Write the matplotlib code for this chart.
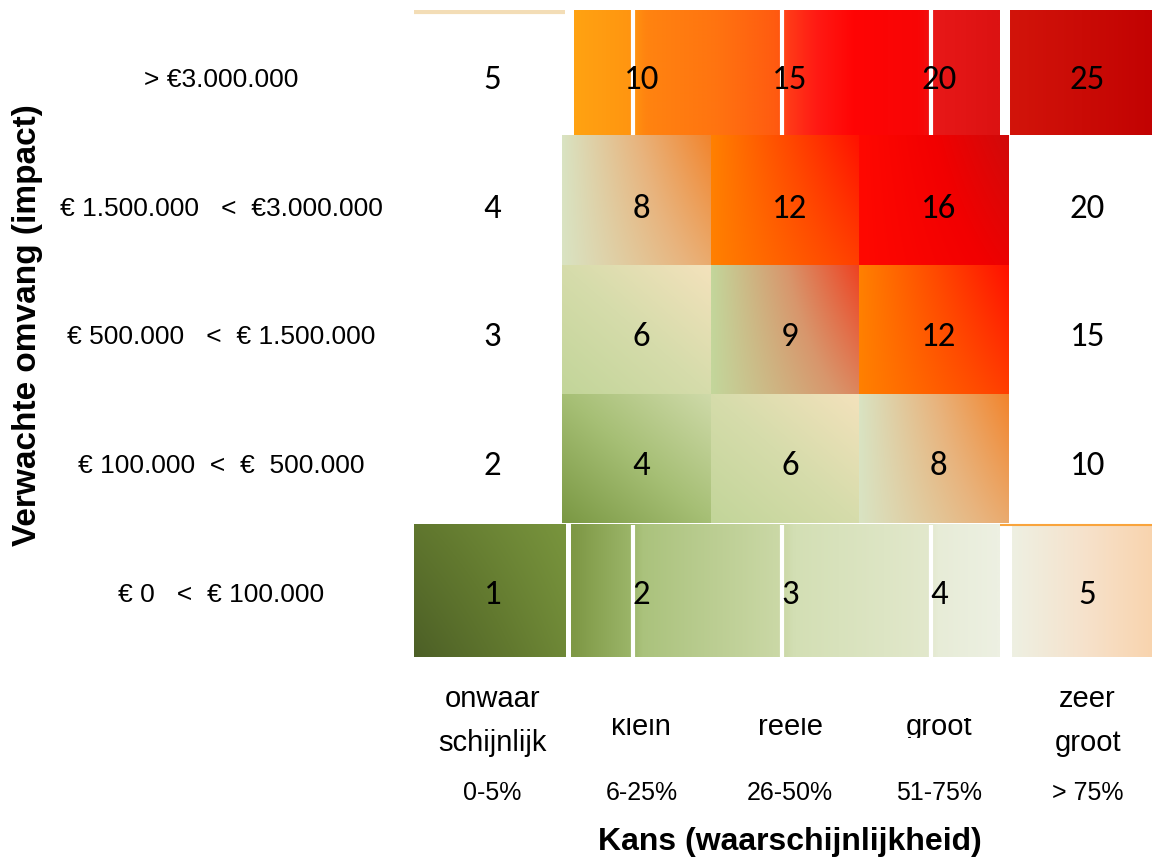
import numpy as np
import matplotlib
matplotlib.use("Agg")
import matplotlib.pyplot as plt
from matplotlib import font_manager
from matplotlib.colors import to_rgb
from matplotlib.transforms import Bbox, TransformedBbox, blended_transform_factory

# risk matrix: impact (rows) x likelihood (columns)
impact_levels = [1, 2, 3, 4, 5]
likelihood_levels = [1, 2, 3, 4, 5]
impact_labels = ["€ 0   <  € 100.000",
                 "€ 100.000  <  €  500.000",
                 "€ 500.000   <  € 1.500.000",
                 "€ 1.500.000   <  €3.000.000",
                 "> €3.000.000"]
likelihood_words = [["onwaar", "schijnlijk"], ["klein"], ["reële"], ["groot"], ["zeer", "groot"]]
likelihood_pct = ["0-5%", "6-25%", "26-50%", "51-75%", "> 75%"]
x_title = "Kans (waarschijnlijkheid)"
y_title = "Verwachte omvang (impact)"

W, H = 1152, 859

# colour stops (left/bottom -> right/top)
GRADIENTS = {
    "olive": ["#4c5f26", "#62792f", "#7a963e"],
    "green_dark": ["#7a9843", "#a6bf75", "#cfdaa9"],
    "green_tan": ["#c2d599", "#d6dcab", "#f4e2bc"],
    "green_orange": ["#d9e3c2", "#e8b47e", "#f2842c"],
    "green_red": ["#c3d69b", "#d8966c", "#ee4020"],
    "orange_red": ["#ff8000", "#ff4a00", "#ff1000"],
    "red": ["#ff0800", "#f20000", "#d00a0a"],
    "dark_red": ["#d2140a", "#c20202"],
    "peach": ["#eef0e2", "#f6e2cc", "#f9d4ae"],
}
SCORE_LOOK = {4: ("green_dark", "diag"), 6: ("green_tan", "diag"), 8: ("green_orange", "sweep"),
              9: ("green_red", "sweep"), 12: ("orange_red", "sweep"), 16: ("red", "sweep")}

TOP_BAND = [(0.0, "#ffa212"), (0.14, "#ff9410"), (0.16, "#ff8410"), (0.33, "#ff7410"),
            (0.48, "#ff5a10"), (0.50, "#ff3c18"), (0.57, "#ff1a14"), (0.66, "#ff0404"),
            (0.82, "#f80606"), (0.85, "#e81818"), (1.0, "#dc1212")]
BOTTOM_BAND = [(0.0, "#7e9845"), (0.14, "#9cb66a"), (0.16, "#aac27c"), (0.5, "#ccd9a8"),
               (0.52, "#d3dfb4"), (0.84, "#e2e8cc"), (0.86, "#e7ecd7"), (1.0, "#edf0e2")]


def fx(px):
    return px / W


def fy(py):
    return 1 - py / H


def make_grad(stops, mode, n=80):
    if isinstance(stops[0], tuple):
        pos = [p for p, _ in stops]
        cols = np.array([to_rgb(c) for _, c in stops])
    else:
        pos = np.linspace(0, 1, len(stops))
        cols = np.array([to_rgb(c) for c in stops])
    u, v = np.meshgrid(np.linspace(0, 1, n), np.linspace(0, 1, n))
    if mode == "horiz":
        t = u
    elif mode == "diag":
        t = (u + v) / 2
    elif mode == "olive":
        t = np.clip(0.75 * u + 0.45 * v * (1 - 0.5 * u), 0, 1)
    else:  # sweep: green on the left, strongest at the top right
        t = u * (0.6 + 0.4 * v)
    img = np.stack([np.interp(t, pos, cols[:, k]) for k in range(3)], axis=-1)
    return img


def paint(ax, stops, mode, x0, x1, y0, y1):
    ax.imshow(make_grad(stops, mode), extent=(x0, x1, y0, y1), origin="lower",
              interpolation="bilinear", aspect="auto", zorder=1)


def draw_matrix(ax):
    # middle 3x3 block
    for i in impact_levels[1:4]:
        for l in likelihood_levels[1:4]:
            look, mode = SCORE_LOOK[i * l]
            paint(ax, GRADIENTS[look], mode, l - 0.534, l + 0.47, i - 0.44, i + 0.565)

    # lowest row and highest row are streaky bands with thin white gaps
    paint(ax, BOTTOM_BAND, "horiz", 1.53, 4.41, 0.517, 1.544)
    paint(ax, TOP_BAND, "horiz", 1.55, 4.41, 4.573, 5.545)
    gaps = [l - 0.056 for l in likelihood_levels[1:4]]
    ax.vlines(gaps, 0.517, 1.544, color="white", lw=3, zorder=2)
    ax.vlines(gaps, 4.573, 5.545, color="white", lw=3, zorder=2)

    # corner cells
    paint(ax, GRADIENTS["olive"], "olive", 0.47, 1.49, 0.517, 1.544)
    paint(ax, GRADIENTS["peach"], "horiz", 4.49, 5.44, 0.517, 1.544)
    paint(ax, GRADIENTS["dark_red"], "horiz", 4.478, 5.44, 4.573, 5.545)
    ax.plot([0.47, 1.49], [5.525, 5.525], color="#f3ddb6", lw=3, solid_capstyle="butt", zorder=2)
    ax.plot([4.41, 5.44], [1.545, 1.545], color="#f9a43c", lw=1.5, solid_capstyle="butt", zorder=2)

    for i in impact_levels:
        for l in likelihood_levels:
            ax.text(l, i, str(i * l), ha="center", va="center", fontsize=25,
                    family=num_font, color="black", zorder=3)


if __name__ == "__main__":
    names = {f.name for f in font_manager.fontManager.ttflist}
    num_font = "Carlito" if "Carlito" in names else "Lato"
    lab_font = "Liberation Sans"

    fig = plt.figure(figsize=(W / 100, H / 100), dpi=100)
    ax = fig.add_axes([fx(414), fy(660), fx(1152) - fx(414), fy(10) - fy(660)])
    ax.set_xlim(0.4715, 5.433)
    ax.set_ylim(0.495, 5.543)
    ax.axis("off")

    draw_matrix(ax)

    # impact labels on the left
    ytrans = blended_transform_factory(fig.transFigure, ax.transData)
    for i, lab in zip(impact_levels, impact_labels):
        fig.text(fx(221), i, lab, ha="center", va="center", fontsize=19, family=lab_font,
                 transform=ytrans)

    # likelihood labels under the matrix
    trans = blended_transform_factory(ax.transData, fig.transFigure)
    clip = TransformedBbox(Bbox([[0, fy(738)], [1, fy(718)]]), fig.transFigure)
    for l, words, pct in zip(likelihood_levels, likelihood_words, likelihood_pct):
        if len(words) == 2:
            ax.text(l, fy(707), words[0], ha="center", va="baseline", fontsize=21,
                    family=lab_font, transform=trans, clip_on=False)
            ax.text(l, fy(751), words[1], ha="center", va="baseline", fontsize=21,
                    family=lab_font, transform=trans, clip_on=False)
        else:
            t = ax.text(l, fy(735), words[0], ha="center", va="baseline", fontsize=21,
                        family=lab_font, transform=trans)
            t.set_clip_on(True)
            t.set_clip_box(clip)
        ax.text(l, fy(800), pct, ha="center", va="baseline", fontsize=18,
                family=lab_font, transform=trans, clip_on=False)

    ax.text(3, fy(842), x_title, ha="center", va="center", fontsize=23, fontweight="bold",
            family=lab_font, transform=trans, clip_on=False)
    fig.text(fx(28), fy(325), y_title, ha="center", va="center", rotation=90, fontsize=24,
             fontweight="bold", family=lab_font)

    fig.savefig("out.png", dpi=100)
